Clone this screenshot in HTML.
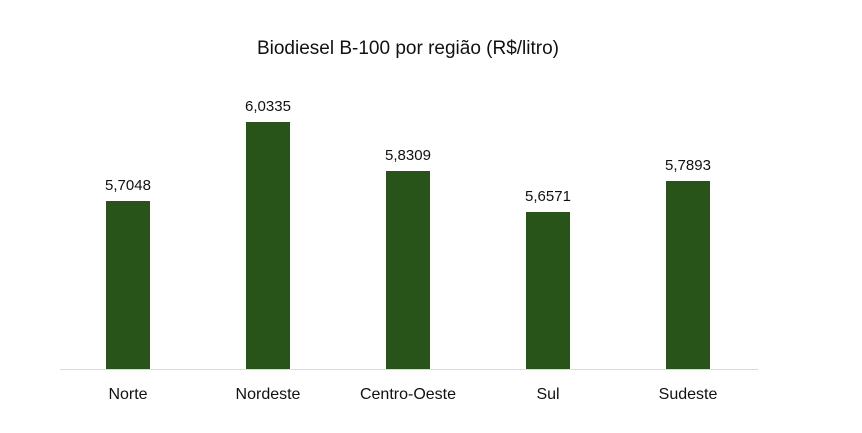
<!DOCTYPE html>
<html><head><meta charset="utf-8"><style>
body{margin:0;background:#fff;}
svg text{font-family:"Liberation Sans",sans-serif;fill:#111;}
</style></head><body>
<svg width="862" height="428" xmlns="http://www.w3.org/2000/svg">
<rect width="862" height="428" fill="#fff"/>
<text x="408" y="54" font-size="19" text-anchor="middle">Biodiesel B-100 por região (R$/litro)</text>
<line x1="60" y1="369.5" x2="758" y2="369.5" stroke="#d9d9d9" stroke-width="1"/>
<g fill="#285319">
<rect x="106" y="201" width="44" height="168"/>
<rect x="246" y="122" width="44" height="247"/>
<rect x="386" y="171" width="44" height="198"/>
<rect x="526" y="212" width="44" height="157"/>
<rect x="666" y="181" width="44" height="188"/>
</g>
<g font-size="15" text-anchor="middle">
<text x="128" y="190">5,7048</text>
<text x="268" y="111">6,0335</text>
<text x="408" y="160">5,8309</text>
<text x="548" y="201">5,6571</text>
<text x="688" y="170">5,7893</text>
</g>
<g font-size="16" text-anchor="middle">
<text x="128" y="399">Norte</text>
<text x="268" y="399">Nordeste</text>
<text x="408" y="399">Centro-Oeste</text>
<text x="548" y="399">Sul</text>
<text x="688" y="399">Sudeste</text>
</g>
</svg>
</body></html>
